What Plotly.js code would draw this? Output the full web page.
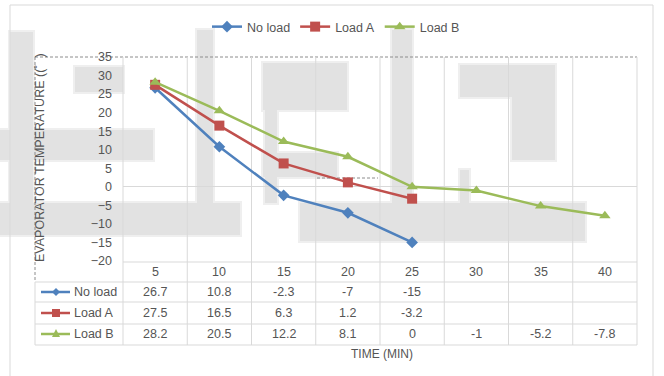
<!DOCTYPE html>
<html>
<head>
<meta charset="utf-8">
<script src="https://cdn.plot.ly/plotly-3.0.1.min.js"></script>
<style>
  html, body { margin: 0; padding: 0; background: #ffffff; }
  #chart { width: 664px; height: 376px; }
</style>
</head>
<body>
<div id="chart"></div>
<script>
// Evaporator temperature over time for three load conditions
const times = [5, 10, 15, 20, 25, 30, 35, 40];
const seriesNames = ['No load', 'Load A', 'Load B'];
const noLoad = [26.7, 10.8, -2.3, -7, -15];
const loadA = [27.5, 16.5, 6.3, 1.2, -3.2];
const loadB = [28.2, 20.5, 12.2, 8.1, 0, -1, -5.2, -7.8];
const tableLabels = ['26.7', '10.8', '-2.3', '-7', '-15'];
const tableLabelsA = ['27.5', '16.5', '6.3', '1.2', '-3.2'];
const tableLabelsB = ['28.2', '20.5', '12.2', '8.1', '0', '-1', '-5.2', '-7.8'];

const colors = ['#4f81bd', '#c0504d', '#9bbb59'];
const symbols = ['diamond', 'square', 'triangle-up'];
const markerSizes = [9, 10, 10];
const FONT = '"Liberation Sans Narrow", "Liberation Sans", Arial, sans-serif';
const TXT = '#555555';
const GRID = '#d9d9d9';

// plot area in page pixels
const L = 123, R = 637, T = 57, B = 261;
const px = x => (x - L) / (R - L);
const py = y => (B - y) / (B - T);

const allValues = [noLoad, loadA, loadB];
const traces = allValues.map((vals, i) => ({
  type: 'scatter',
  mode: 'lines+markers',
  name: seriesNames[i],
  x: times.slice(0, vals.length),
  y: vals,
  line: { color: colors[i], width: 2.5 },
  marker: { symbol: symbols[i], size: markerSizes[i], color: colors[i] },
  cliponaxis: false
}));

const shapes = [];
const rectPx = (x0, y0, x1, y1, fill) => shapes.push({
  type: 'rect', xref: 'paper', yref: 'paper', layer: 'below',
  x0: px(x0), x1: px(x1), y0: py(y0), y1: py(y1),
  fillcolor: fill, line: { width: 0 }
});
const linePx = (x0, y0, x1, y1, color, dash, width) => shapes.push({
  type: 'line', xref: 'paper', yref: 'paper', layer: 'below',
  x0: px(x0), x1: px(x1), y0: py(y0), y1: py(y1),
  line: { color: color, width: width || 1, dash: dash || 'solid' }
});

// light grey background lettering blocks, with a soft halo
const blocks = [
  [10, 32, 33, 235], [75, 67, 123, 92], [0, 130, 153, 160], [0, 203, 240, 235],
  [197, 30, 213, 203], [263, 63, 347, 110], [265, 110, 277, 203], [263, 153, 337, 177],
  [392, 30, 412, 203], [300, 203, 585, 241], [460, 65, 555, 97], [512, 65, 555, 160],
  [460, 170, 469, 203]
];
blocks.forEach(r => rectPx(r[0] - 2, r[1] - 2, r[2] + 2, r[3] + 2, '#efefef'));
blocks.forEach(r => rectPx(r[0], r[1], r[2], r[3], '#e2e2e2'));

// outer chart frame
linePx(10, 5, 653, 5, GRID);
linePx(10, 5, 10, 376, GRID);
linePx(653, 5, 653, 376, GRID);

// dashed plot-area frame
linePx(35, T, R, T, '#8c8c8c', '3px,2px', 1);
linePx(35, T, 35, 282, '#8c8c8c', '3px,2px', 1);

// category boundary lines running through the plot and the data table
const xEdge = v => L + (v - 2.5) / 40 * (R - L);
for (let k = 0; k <= times.length; k++) {
  const xv = xEdge(2.5 + 5 * k);
  linePx(xv, T, xv, 345, GRID);
}
// data table rows
linePx(L, 262, R, 262, GRID);
[282, 302, 324, 345].forEach(y => linePx(35, y, R, y, GRID));
linePx(35, 282, 35, 345, GRID);

// faint dashed leader near the Load A point
linePx(317, 178, 378, 178, '#8c8c8c', '3px,2px', 1);

// legend keys inside the table
const rowY = [292, 313, 334];
rowY.forEach((y, i) => {
  linePx(41, y, 70, y, colors[i], 'solid', 2.5);
  const cx = 56, s = 4;
  let path;
  if (i === 0) path = `M${px(cx - s)},${py(y)} L${px(cx)},${py(y - s)} L${px(cx + s)},${py(y)} L${px(cx)},${py(y + s)} Z`;
  else if (i === 1) path = `M${px(cx - s)},${py(y - s)} L${px(cx + s)},${py(y - s)} L${px(cx + s)},${py(y + s)} L${px(cx - s)},${py(y + s)} Z`;
  else path = `M${px(cx - s)},${py(y + s - 1)} L${px(cx + s)},${py(y + s - 1)} L${px(cx)},${py(y - s - 1)} Z`;
  shapes.push({ type: 'path', xref: 'paper', yref: 'paper', path: path, fillcolor: colors[i], line: { width: 0 } });
});

const annotations = [];
const ann = (o) => annotations.push(Object.assign({
  showarrow: false, xanchor: 'center', yanchor: 'middle',
  font: { family: FONT, size: 12.5, color: TXT }
}, o));

// table header: time values
times.forEach(t => ann({ xref: 'x', yref: 'paper', x: t, y: py(272), text: String(t) }));
// table rows: series values
[tableLabels, tableLabelsA, tableLabelsB].forEach((labels, i) => {
  labels.forEach((lab, j) => ann({ xref: 'x', yref: 'paper', x: times[j], y: py(rowY[i]), text: lab }));
  ann({ xref: 'paper', yref: 'paper', x: px(72), y: py(rowY[i]), xanchor: 'left', text: seriesNames[i] });
});

// axis titles
ann({ xref: 'paper', yref: 'paper', x: px(382), y: py(354), text: 'TIME (MIN)', font: { family: FONT, size: 12, color: TXT } });
ann({ xref: 'paper', yref: 'paper', x: px(40), y: py(158), textangle: -90,
      text: 'EVAPORATOR TEMPERATURE ((˚  )', font: { family: FONT, size: 12.5, color: TXT } });

const layout = {
  width: 664, height: 376,
  margin: { l: L, r: 664 - R, t: T, b: 376 - B, pad: 0 },
  paper_bgcolor: 'rgba(0,0,0,0)',
  plot_bgcolor: 'rgba(0,0,0,0)',
  font: { family: FONT, size: 12, color: TXT },
  showlegend: true,
  legend: {
    orientation: 'h', x: px(336), xanchor: 'center', y: py(27), yanchor: 'middle',
    font: { family: FONT, size: 12.5, color: TXT }, itemwidth: 30, bgcolor: 'rgba(0,0,0,0)'
  },
  xaxis: {
    range: [2.5, 42.5], showgrid: false, zeroline: false, showticklabels: false,
    showline: false, ticks: '', fixedrange: true
  },
  yaxis: {
    range: [-20, 35], dtick: 5, tick0: 0, showgrid: false,
    zeroline: true, zerolinecolor: GRID, zerolinewidth: 1,
    showline: false, ticks: '', ticklabelstandoff: 10,
    tickfont: { family: FONT, size: 12.5, color: TXT }, fixedrange: true
  },
  shapes: shapes,
  annotations: annotations
};

Plotly.newPlot('chart', traces, layout, { staticPlot: true, displayModeBar: false });
</script>
</body>
</html>
